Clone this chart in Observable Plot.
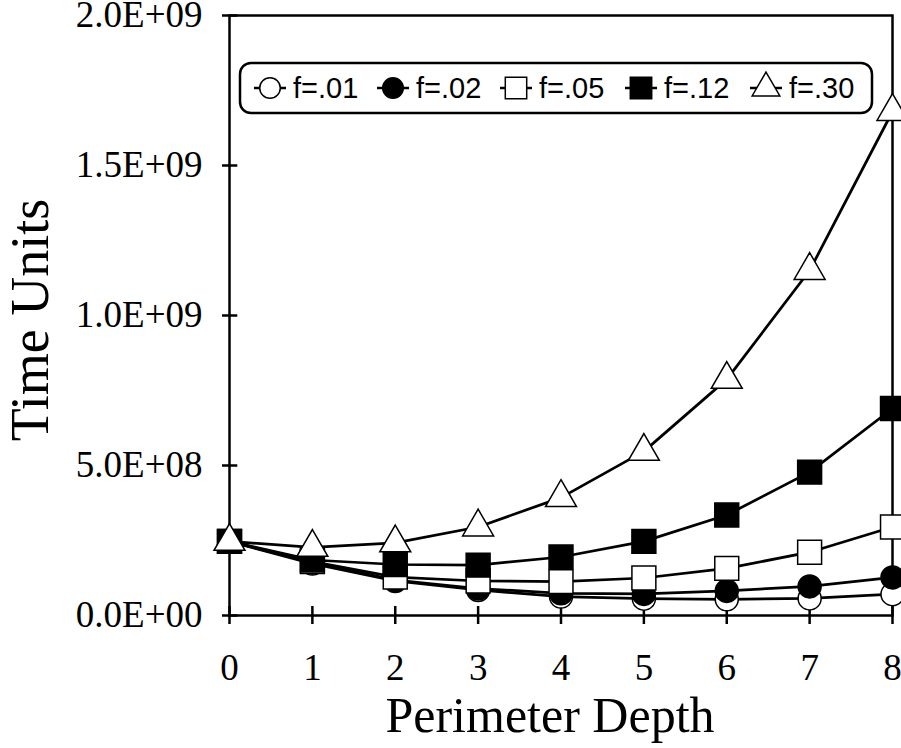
<!DOCTYPE html>
<html>
<head>
<meta charset="utf-8">
<script src="https://cdn.jsdelivr.net/npm/d3@7"></script>
<script src="https://cdn.jsdelivr.net/npm/@observablehq/plot@0.6"></script>
<style>
  html, body { margin: 0; padding: 0; background: #fff; }
  #chart { width: 901px; height: 748px; }
</style>
</head>
<body>
<div id="chart"></div>
<script>
// ---- data ----
const depth = [0, 1, 2, 3, 4, 5, 6, 7, 8];
const f01 = [2.47e8, 1.73e8, 1.15e8, 0.85e8, 0.63e8, 0.56e8, 0.54e8, 0.57e8, 0.71e8];
const f02 = [2.47e8, 1.77e8, 1.18e8, 0.90e8, 0.74e8, 0.72e8, 0.82e8, 0.97e8, 1.27e8];
const f05 = [2.47e8, 1.80e8, 1.28e8, 1.15e8, 1.13e8, 1.25e8, 1.57e8, 2.11e8, 2.95e8];
const f12 = [2.47e8, 1.85e8, 1.70e8, 1.68e8, 1.95e8, 2.47e8, 3.35e8, 4.78e8, 6.90e8];
const f30 = [2.47e8, 2.27e8, 2.42e8, 2.95e8, 3.93e8, 5.47e8, 7.87e8, 1.15e9, 1.68e9];
const seriesNames = ["f=.01", "f=.02", "f=.05", "f=.12", "f=.30"];
const xTicks = [0, 1, 2, 3, 4, 5, 6, 7, 8];
const yTicks = [0, 5e8, 1e9, 1.5e9, 2e9];
const yTickLabels = ["0.0E+00", "5.0E+08", "1.0E+09", "1.5E+09", "2.0E+09"];

const seriesValues = [f01, f02, f05, f12, f30];
const styles = [
  {symbol: "circle",   fill: "white", r: 11.5},
  {symbol: "circle",   fill: "black", r: 11.5},
  {symbol: "square",   fill: "white", r: 13.5},
  {symbol: "square",   fill: "black", r: 13.5},
  {symbol: "triangle", fill: "white", r: 11.5}
];
const rows = seriesNames.map((name, i) => depth.map((d, j) => ({series: name, x: d, y: seriesValues[i][j]})));

const marks = [
  Plot.frame({stroke: "black", strokeWidth: 2.5}),
  Plot.ruleX(xTicks, {x: d => d, y1: 0, y2: 3e7, stroke: "black", strokeWidth: 2.5}),
  Plot.ruleY(yTicks, {y: d => d, x1: 0, x2: 0.1, stroke: "black", strokeWidth: 2.5}),
  Plot.axisY({ticks: yTicks, tickFormat: d => yTickLabels[yTicks.indexOf(d)], tickSize: 7, tickPadding: 20,
    strokeWidth: 2.5, fontSize: 37, fontFamily: "Liberation Serif", label: null}),
  Plot.axisX({ticks: xTicks, tickFormat: d => String(d), tickSize: 9, tickPadding: 29,
    strokeWidth: 2.5, fontSize: 37, fontFamily: "Liberation Serif", label: null})
];
rows.forEach((data, i) => {
  const s = styles[i];
  marks.push(Plot.line(data, {x: "x", y: "y", stroke: "black", strokeWidth: 2.75}));
  marks.push(Plot.dot(data, {x: "x", y: "y", symbol: () => s.symbol, r: s.r, fill: s.fill, stroke: "black", strokeWidth: 1.5}));
});

const plot = Plot.plot({
  width: 901,
  height: 748,
  marginLeft: 229,
  marginRight: 9,
  marginTop: 15,
  marginBottom: 133,
  x: {domain: [0, 8]},
  y: {domain: [0, 2e9]},
  symbol: {type: "identity"},
  style: {background: "white", color: "black", overflow: "visible"},
  marks
});
document.getElementById("chart").appendChild(plot);

const svg = d3.select(plot);
// axis titles
svg.append("text")
  .attr("transform", "translate(48,320) rotate(-90)")
  .attr("text-anchor", "middle")
  .attr("font-family", "Liberation Serif")
  .attr("font-size", 54)
  .attr("fill", "black")
  .text("Time Units");
svg.append("text")
  .attr("x", 550).attr("y", 732)
  .attr("text-anchor", "middle")
  .attr("font-family", "Liberation Serif")
  .attr("font-size", 50)
  .attr("fill", "black")
  .text("Perimeter Depth");

// legend
const lg = svg.append("g");
lg.append("rect").attr("x", 240).attr("y", 63).attr("width", 632).attr("height", 50)
  .attr("rx", 11).attr("fill", "white").attr("stroke", "black").attr("stroke-width", 2.5);
const legendX = [270, 393, 516, 641, 766];
const symMap = {circle: d3.symbolCircle, square: d3.symbolSquare, triangle: d3.symbolTriangle};
seriesNames.forEach((name, i) => {
  const s = styles[i];
  const cx = legendX[i], cy = 88;
  lg.append("line").attr("x1", cx - 16).attr("x2", cx + 16).attr("y1", cy).attr("y2", cy)
    .attr("stroke", "black").attr("stroke-width", 2.5);
  lg.append("path").attr("transform", `translate(${cx},${cy})`)
    .attr("d", d3.symbol(symMap[s.symbol], Math.PI * s.r * s.r * 0.8)())
    .attr("fill", s.fill).attr("stroke", "black").attr("stroke-width", 1.5);
  lg.append("text").attr("x", cx + 23).attr("y", cy).attr("dy", "0.36em")
    .attr("text-anchor", "start")
    .attr("font-family", "Liberation Sans").attr("font-size", 29).attr("fill", "black")
    .text(name);
});
</script>
</body>
</html>
